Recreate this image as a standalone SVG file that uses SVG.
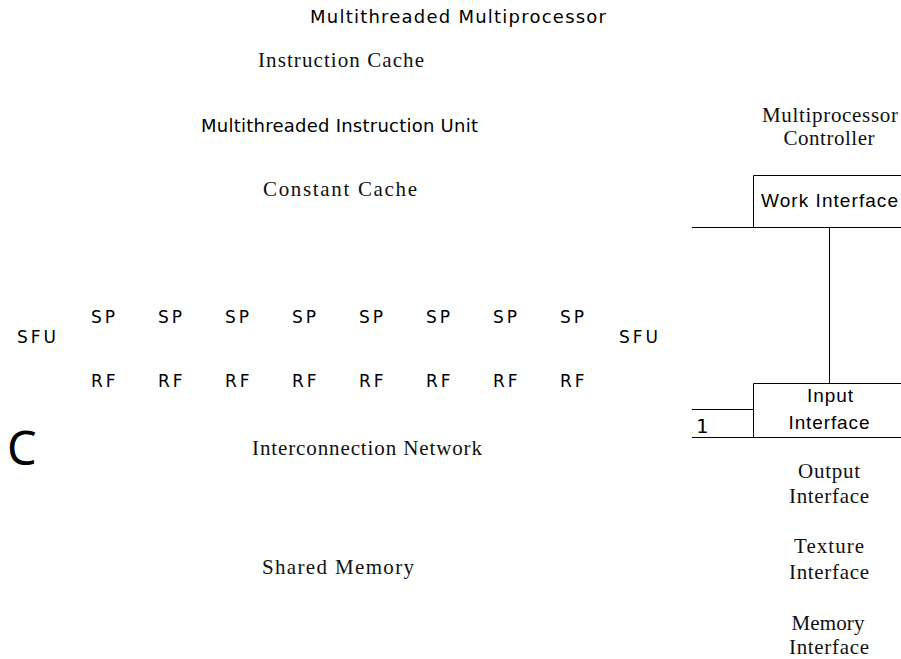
<svg xmlns="http://www.w3.org/2000/svg" width="901" height="659" viewBox="0 0 901 659">
<style>
.ser{font-family:"Liberation Serif","Times New Roman",serif;font-size:21px;fill:#111}
.sans{font-family:"DejaVu Sans",Verdana,sans-serif;fill:#000}
.unit{font-family:"DejaVu Sans",Verdana,sans-serif;font-size:17px;letter-spacing:3px;fill:#000}
.ar{font-family:"Liberation Sans",Arial,sans-serif;font-size:19px;fill:#000}
.ln{stroke:#000;stroke-width:1;fill:none}
.mid{text-anchor:middle}
</style>
<rect width="901" height="659" fill="#fff"/>
<g id="title"><text class="sans" x="310" y="23" font-size="18" textLength="296" lengthAdjust="spacing">Multithreaded  Multiprocessor</text></g>
<g id="instruction-cache"><text class="ser" x="258" y="67" textLength="166" lengthAdjust="spacing">Instruction  Cache</text></g>
<g id="instruction-unit"><text class="sans" x="201" y="132" font-size="18" textLength="277" lengthAdjust="spacing">Multithreaded Instruction Unit</text></g>
<g id="constant-cache"><text class="ser" x="263" y="196" textLength="154" lengthAdjust="spacing">Constant  Cache</text></g>
<g id="sfu-left"><text class="unit" x="17" y="343">SFU</text></g>
<g id="sfu-right"><text class="unit" x="619" y="343">SFU</text></g>
<g id="sp-row">
<text class="unit" x="91" y="323">SP</text>
<text class="unit" x="158" y="323">SP</text>
<text class="unit" x="225" y="323">SP</text>
<text class="unit" x="292" y="323">SP</text>
<text class="unit" x="359" y="323">SP</text>
<text class="unit" x="426" y="323">SP</text>
<text class="unit" x="493" y="323">SP</text>
<text class="unit" x="560" y="323">SP</text>
</g>
<g id="rf-row">
<text class="unit" x="91" y="387">RF</text>
<text class="unit" x="158" y="387">RF</text>
<text class="unit" x="225" y="387">RF</text>
<text class="unit" x="292" y="387">RF</text>
<text class="unit" x="359" y="387">RF</text>
<text class="unit" x="426" y="387">RF</text>
<text class="unit" x="493" y="387">RF</text>
<text class="unit" x="560" y="387">RF</text>
</g>
<g id="c-label"><text x="7" y="465" font-family="Noto Sans, DejaVu Sans, sans-serif" font-size="47" fill="#000">C</text></g>
<g id="interconnection-network"><text class="ser" x="252" y="455" textLength="230" lengthAdjust="spacing">Interconnection  Network</text></g>
<g id="shared-memory"><text class="ser" x="262" y="574" textLength="152" lengthAdjust="spacing">Shared  Memory</text></g>
<g id="mp-controller">
<text class="ser mid" x="830" y="122" textLength="136" lengthAdjust="spacing">Multiprocessor</text>
<text class="ser mid" x="829" y="145" textLength="91" lengthAdjust="spacing">Controller</text>
</g>
<g id="work-interface">
<path class="ln" d="M753.5 227V175.5H901"/>
<text class="ar" x="761" y="207" textLength="137" lengthAdjust="spacing">Work  Interface</text>
</g>
<g id="input-interface">
<path class="ln" d="M753.5 437V383.5H901"/>
<text class="ar mid" x="830" y="402" textLength="46" lengthAdjust="spacing">Input</text>
<text class="ar mid" x="829" y="429" textLength="81" lengthAdjust="spacing">Interface</text>
</g>
<g id="port-1"><text x="696" y="433" font-family="DejaVu Sans Mono, Liberation Mono, monospace" font-size="20" fill="#000">1</text></g>
<g id="output-interface">
<text class="ser mid" x="829" y="478" textLength="62" lengthAdjust="spacing">Output</text>
<text class="ser mid" x="829" y="503" textLength="80" lengthAdjust="spacing">Interface</text>
</g>
<g id="texture-interface">
<text class="ser mid" x="829" y="553" textLength="70" lengthAdjust="spacing">Texture</text>
<text class="ser mid" x="829" y="579" textLength="80" lengthAdjust="spacing">Interface</text>
</g>
<g id="memory-interface">
<text class="ser mid" x="828" y="630" textLength="73" lengthAdjust="spacing">Memory</text>
<text class="ser mid" x="829" y="654" textLength="80" lengthAdjust="spacing">Interface</text>
</g>
<g id="connectors">
<path class="ln" d="M692 227.5H901"/>
<path class="ln" d="M829.5 227V383"/>
<path class="ln" d="M692 409.5H753"/>
<path class="ln" d="M692 437.5H901"/>
</g>
</svg>
